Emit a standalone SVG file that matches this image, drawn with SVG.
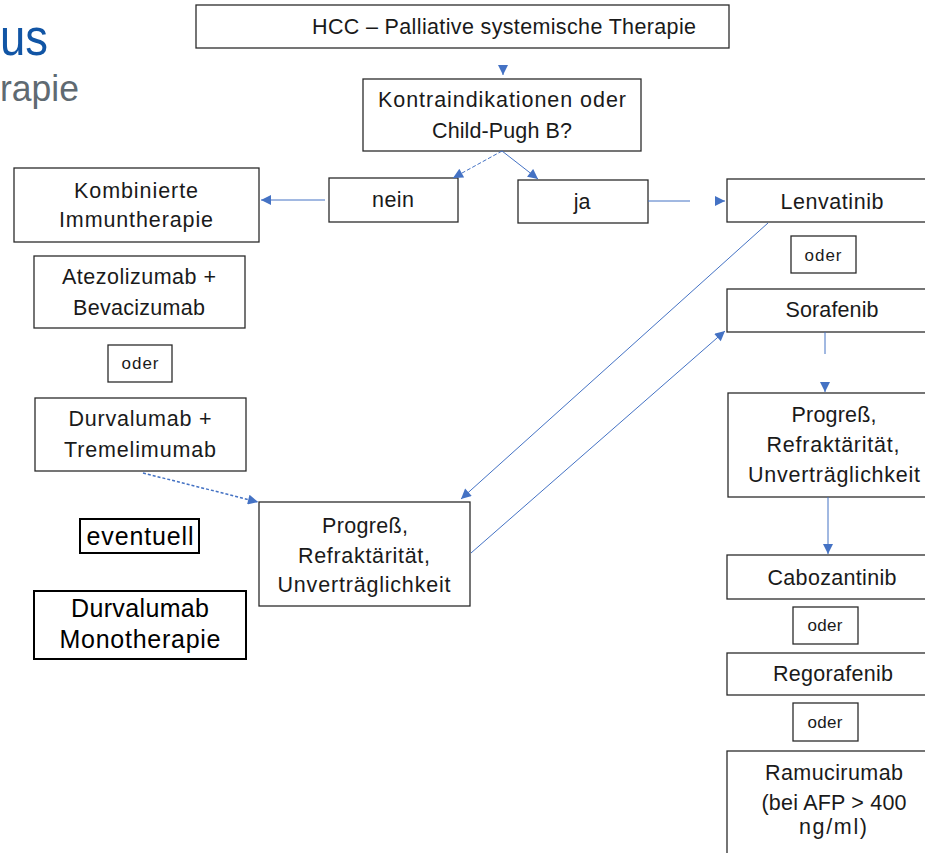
<svg xmlns="http://www.w3.org/2000/svg" width="925" height="853" viewBox="0 0 925 853">
<style>
  .box{fill:#fff;stroke:#2b2b2b;stroke-width:1.3}
  .boxb{fill:#fff;stroke:#000;stroke-width:2}
  text{font-family:"Liberation Sans",Arial,sans-serif;fill:#1a1a1a;text-anchor:middle}
  .t{font-size:21.5px}
  .s{font-size:17px}
  .b{font-size:25px;fill:#000}
  .con{fill:none;stroke:#4472c4;stroke-width:1}
  .dash{stroke-dasharray:4 2}
  .dot{stroke-dasharray:3 2;stroke-width:1.5}
</style>
<defs>
  <marker id="ah" markerUnits="userSpaceOnUse" viewBox="0 0 10 10" refX="10" refY="5" markerWidth="11" markerHeight="10" orient="auto">
    <path d="M0,0 L10,5 L0,10 z" fill="#4472c4"/>
  </marker>
</defs>

<text x="48" y="55" style="font-size:52px;fill:#1155a5;text-anchor:end" textLength="48" lengthAdjust="spacingAndGlyphs">us</text>
<text x="79" y="101" style="font-size:36px;fill:#5f6a72;text-anchor:end" textLength="79" lengthAdjust="spacingAndGlyphs">rapie</text>

<g id="hcc"><rect class="box" x="196" y="5" width="533" height="43"/>
<text class="t" x="504" y="34" textLength="384" lengthAdjust="spacing">HCC – Palliative systemische Therapie</text></g>

<g id="kontra"><rect class="box" x="363" y="79" width="278" height="72"/>
<text class="t" x="502" y="107" textLength="248" lengthAdjust="spacing">Kontraindikationen oder</text>
<text class="t" x="502" y="138" textLength="140" lengthAdjust="spacing">Child-Pugh B?</text></g>

<g id="nein"><rect class="box" x="329" y="178" width="129" height="44"/>
<text class="t" x="393" y="207" textLength="42" lengthAdjust="spacing">nein</text></g>

<g id="ja"><rect class="box" x="518" y="180" width="130" height="43"/>
<text class="t" x="582" y="209">ja</text></g>

<g id="kombi"><rect class="box" x="14" y="168" width="245" height="74"/>
<text class="t" x="136" y="198" textLength="124" lengthAdjust="spacing">Kombinierte</text>
<text class="t" x="136" y="227" textLength="154" lengthAdjust="spacing">Immuntherapie</text></g>

<g id="atezo"><rect class="box" x="34" y="256" width="211" height="72"/>
<text class="t" x="139" y="284" textLength="154" lengthAdjust="spacing">Atezolizumab +</text>
<text class="t" x="139" y="315" textLength="132" lengthAdjust="spacing">Bevacizumab</text></g>

<g id="oder1"><rect class="box" x="108" y="345" width="64" height="37"/>
<text class="s" x="140" y="369" textLength="37" lengthAdjust="spacing">oder</text></g>

<g id="durtrem"><rect class="box" x="35" y="398" width="211" height="73"/>
<text class="t" x="140" y="426" textLength="143" lengthAdjust="spacing">Durvalumab +</text>
<text class="t" x="140" y="457" textLength="152" lengthAdjust="spacing">Tremelimumab</text></g>

<g id="eventuell"><rect class="boxb" x="80" y="519" width="119" height="34"/>
<text class="b" x="140" y="545" textLength="107" lengthAdjust="spacing">eventuell</text></g>

<g id="durmono"><rect class="boxb" x="34" y="591" width="212" height="68"/>
<text class="b" x="140" y="617" textLength="138" lengthAdjust="spacing">Durvalumab</text>
<text class="b" x="140" y="648" textLength="161" lengthAdjust="spacing">Monotherapie</text></g>

<g id="progress1"><rect class="box" x="259" y="502" width="211" height="104"/>
<text class="t" x="365" y="533" textLength="86" lengthAdjust="spacing">Progreß,</text>
<text class="t" x="364" y="563" textLength="132" lengthAdjust="spacing">Refraktärität,</text>
<text class="t" x="364" y="592" textLength="173" lengthAdjust="spacing">Unverträglichkeit</text></g>

<g id="lenvatinib"><rect class="box" x="727" y="179" width="213" height="43"/>
<text class="t" x="832" y="209" textLength="103" lengthAdjust="spacing">Lenvatinib</text></g>

<g id="oder2"><rect class="box" x="791" y="236" width="65" height="37"/>
<text class="s" x="823" y="261" textLength="37" lengthAdjust="spacing">oder</text></g>

<g id="sorafenib"><rect class="box" x="727" y="289" width="213" height="43"/>
<text class="t" x="832" y="317" textLength="93" lengthAdjust="spacing">Sorafenib</text></g>

<g id="progress2"><rect class="box" x="728" y="393" width="212" height="104"/>
<text class="t" x="834" y="422" textLength="85" lengthAdjust="spacing">Progreß,</text>
<text class="t" x="833" y="452" textLength="133" lengthAdjust="spacing">Refraktärität,</text>
<text class="t" x="834" y="482" textLength="172" lengthAdjust="spacing">Unverträglichkeit</text></g>

<g id="cabozantinib"><rect class="box" x="727" y="555" width="213" height="44"/>
<text class="t" x="832" y="585" textLength="129" lengthAdjust="spacing">Cabozantinib</text></g>

<g id="oder3"><rect class="box" x="793" y="607" width="65" height="37"/>
<text class="s" x="825" y="631" textLength="35" lengthAdjust="spacing">oder</text></g>

<g id="regorafenib"><rect class="box" x="727" y="653" width="213" height="42"/>
<text class="t" x="833" y="681" textLength="120" lengthAdjust="spacing">Regorafenib</text></g>

<g id="oder4"><rect class="box" x="793" y="703" width="65" height="38"/>
<text class="s" x="825" y="728" textLength="35" lengthAdjust="spacing">oder</text></g>

<g id="ramucirumab"><rect class="box" x="727" y="751" width="213" height="110"/>
<text class="t" x="834" y="780" textLength="138" lengthAdjust="spacing">Ramucirumab</text>
<text class="t" x="834" y="810" textLength="145" lengthAdjust="spacing">(bei AFP &gt; 400</text>
<text class="t" x="833" y="834" textLength="68" lengthAdjust="spacing">ng/ml)</text></g>

<g id="connectors">
  <path class="con" d="M503,66 L503,75" marker-end="url(#ah)"/>
  <path class="con dash" d="M502,151 L453,178" marker-end="url(#ah)"/>
  <path class="con" d="M502,151 L538,179" marker-end="url(#ah)"/>
  <path class="con" d="M325,200 L261,200" marker-end="url(#ah)"/>
  <path class="con" d="M648,201 H690 M715,201 H725" marker-end="url(#ah)"/>
  <path class="con" d="M768,223 L461,499" marker-end="url(#ah)"/>
  <path class="con" d="M471,553 L725,331" marker-end="url(#ah)"/>
  <path class="con dot" d="M143,473 L258,502" marker-end="url(#ah)"/>
  <path class="con" d="M825,332 V354 M825,382 V392" marker-end="url(#ah)"/>
  <path class="con" d="M828,497 V554" marker-end="url(#ah)"/>
</g>
</svg>
